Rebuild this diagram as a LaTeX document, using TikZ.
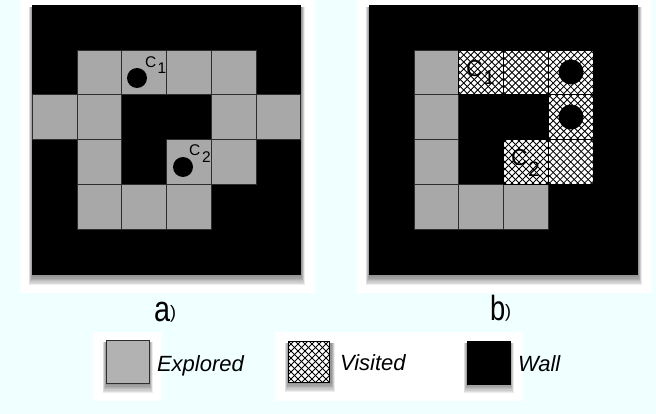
\documentclass[tikz,border=0pt]{standalone}
\usepackage{fontspec}
\setmainfont{Liberation Sans}
\usepackage{graphicx}
\definecolor{bgcyan}{RGB}{240,255,255}
\definecolor{cellgray}{RGB}{168,168,168}
\definecolor{leggray}{RGB}{178,178,178}
\definecolor{gridline}{RGB}{45,45,45}
\newcommand\legfont{\fontsize{22}{26}\selectfont\itshape}
\newcommand\softshadow[4]{%
  \foreach \i in {1,...,7}{\fill[black,opacity=0.07] (#1-0.5*\i,#2+2) rectangle (#3+0.5*\i,#4+1+1.3*\i);}}
\tikzset{
  cellbox/.style={draw=gridline, line width=0.9pt, inner sep=0pt, outer sep=0pt,
    minimum size=44.7pt, anchor=north west},
  explored/.style={cellbox, fill=cellgray},
  visited/.style={cellbox, draw=black, fill=white, path picture={
      \foreach \k in {-8,...,8}{
        \draw[line width=0.85pt,black] ([xshift=\k*7pt]path picture bounding box.north west) -- ++(56,56);
        \draw[line width=0.85pt,black] ([xshift=\k*7pt]path picture bounding box.north east) -- ++(-56,56);}}},
  coin/.style={circle, fill=black, inner sep=0pt},
  legbox/.style={draw=gridline, line width=1pt, inner sep=0pt, outer sep=0pt,
    minimum width=43pt, minimum height=43pt, anchor=north west},
  lbl/.style={anchor=base west, inner sep=0pt, outer sep=0pt},
}
\begin{document}
\begin{tikzpicture}[x=1pt,y=-1pt]
\useasboundingbox (0,0) rectangle (656,414);
\fill[bgcyan] (0,0) rectangle (656,414);
% white backdrops
\fill[white] (20,0) rectangle (315,293);
\fill[white] (357,0) rectangle (652,293);
\fill[white] (93,332) rectangle (162,401);
\fill[white] (275,332) rectangle (523,401);
% panel a
\softshadow{32}{5}{301}{275}
\node[fill=black, inner sep=0pt, outer sep=0pt, minimum width=269pt, minimum height=270pt, anchor=north west] (wallA) at (32,5) {};
\begin{scope}[shift={(32.5,5.5)}]
  \foreach \c/\r in {1/1,2/1,3/1,4/1,0/2,1/2,4/2,5/2,1/3,3/3,4/3,1/4,2/4,3/4}
    \node[explored] (a\r\c) at ({\c*44.7},{\r*44.7}) {};
\end{scope}
\node[coin, minimum size=20pt] (coinA1) at (137,78) {};
\node[coin, minimum size=20pt] (coinA2) at (183,167) {};
\node[lbl] (c1a) at (145,68) {\fontsize{15.5}{15}\selectfont C\kern1.5pt\raisebox{-6pt}{1}};
\node[lbl] (c2a) at (189,156) {\fontsize{15.5}{15}\selectfont C\kern2pt\raisebox{-7pt}{2}};
% panel b
\softshadow{369}{5}{638}{275}
\node[fill=black, inner sep=0pt, outer sep=0pt, minimum width=269pt, minimum height=270pt, anchor=north west] (wallB) at (369,5) {};
\begin{scope}[shift={(369.5,5.5)}]
  \foreach \c/\r in {1/1,1/2,1/3,1/4,2/4,3/4}
    \node[explored] (b\r\c) at ({\c*44.7},{\r*44.7}) {};
  \foreach \c/\r in {2/1,3/1,4/1,4/2,3/3,4/3}
    \node[visited] (b\r\c) at ({\c*44.7},{\r*44.7}) {};
\end{scope}
\node[coin, minimum size=25pt] (coinB1) at (571,72) {};
\node[coin, minimum size=25pt] (coinB2) at (571,117) {};
\node[lbl] (c1b) at (466,77) {\fontsize{23}{23}\selectfont C\kern1pt\raisebox{-8pt}{\fontsize{20}{20}\selectfont 1}};
\node[lbl] (c2b) at (511,166) {\fontsize{23}{23}\selectfont C\kern0.5pt\raisebox{-11pt}{\fontsize{21}{21}\selectfont 2}};
% panel labels
\node[lbl] (labA) at (154,321) {\scalebox{0.8}[1]{\fontsize{36}{36}\selectfont a}\fontsize{18}{18}\selectfont\raisebox{2.5pt}{)}};
\node[lbl] (labB) at (490,320) {\scalebox{0.78}[1]{\fontsize{35}{35}\selectfont b}\fontsize{18}{18}\selectfont\raisebox{2.5pt}{)}};
% legend
\softshadow{106}{340}{149}{383}
\node[legbox, fill=leggray] (legE) at (106,340) {};
\node[lbl, font=\legfont] (txtE) at (157,371) {Explored};
\softshadow{288}{341}{331}{382}
\node[visited, minimum size=41pt] (legV) at (288,341) {};
\node[lbl, font=\legfont] (txtV) at (340,370) {Visited};
\softshadow{467}{341}{510}{383}
\node[legbox, fill=black, draw=black] (legW) at (467,341) {};
\node[lbl, font=\legfont] (txtW) at (518,371) {Wall};
\end{tikzpicture}
\end{document}
